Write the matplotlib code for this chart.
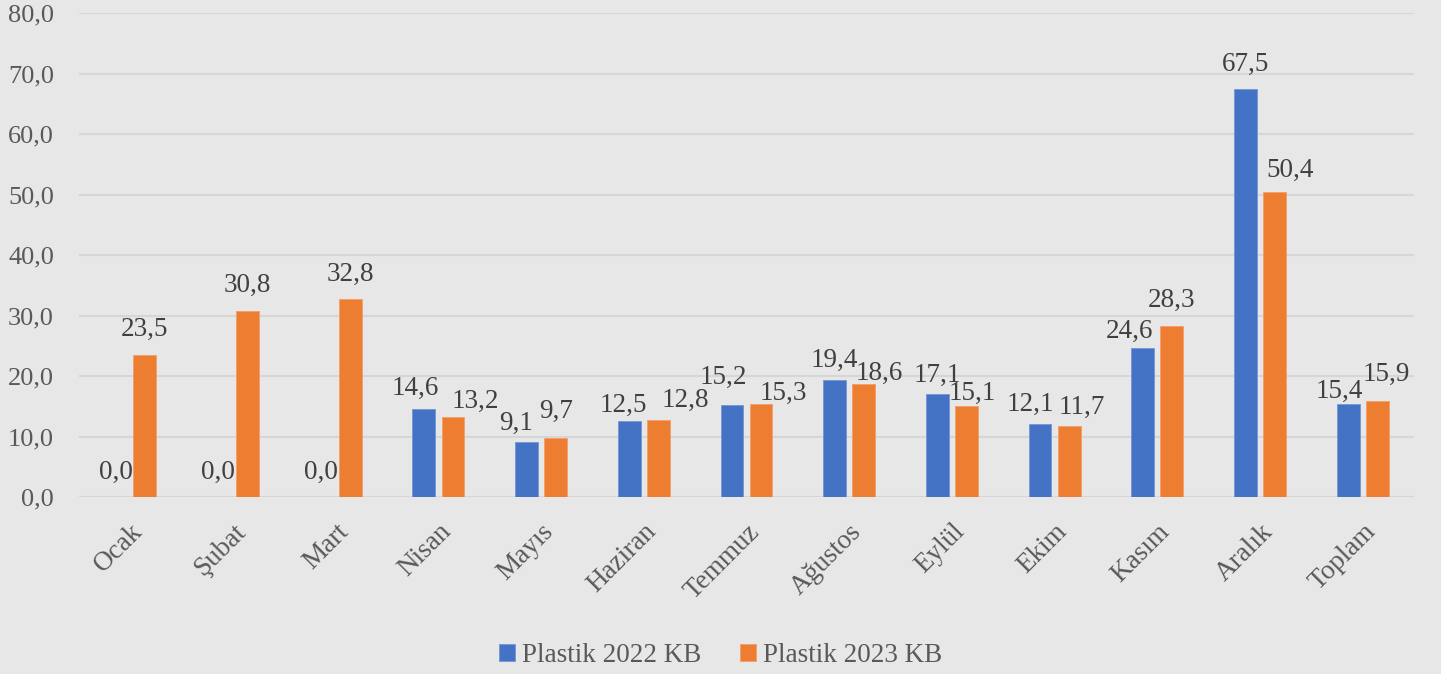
import matplotlib.pyplot as plt
import numpy as np

months = ["Ocak", "Şubat", "Mart", "Nisan", "Mayıs", "Haziran", "Temmuz",
          "Ağustos", "Eylül", "Ekim", "Kasım", "Aralık", "Toplam"]
plastik_2022 = [0.0, 0.0, 0.0, 14.6, 9.1, 12.5, 15.2, 19.4, 17.1, 12.1, 24.6, 67.5, 15.4]
plastik_2023 = [23.5, 30.8, 32.8, 13.2, 9.7, 12.8, 15.3, 18.6, 15.1, 11.7, 28.3, 50.4, 15.9]

# label nudges in pixels (dx, gap above bar) - mimics the source's overlap avoidance
nudge_2022 = [(0, 18), (0, 18), (0, 18), (-9, 14), (-10, 12), (-6, 9), (-9, 21),
              (0, 13), (0, 12), (-10, 13), (-13, 10), (0, 18), (-9, 6)]
nudge_2023 = [(0, 19), (0, 19), (0, 18), (22, 9), (0, 20), (27, 13), (22, 5),
              (16, 5), (6, 6), (13, 12), (0, 19), (15, 15), (9, 20)]

plt.rcParams['font.family'] = ['Liberation Serif', 'DejaVu Serif']

bg = "#E7E7E7"
fig = plt.figure(figsize=(14.41, 6.74), dpi=100, facecolor=bg)
ax = fig.add_axes([0.0548, 0.2626, 0.9265, 0.7181], facecolor=bg)

x = np.arange(len(months))
w = 0.222
b1 = ax.bar(x - 0.142, plastik_2022, w, color="#4472C4", edgecolor="#7396D4",
            linewidth=0.6, label="Plastik 2022 KB", zorder=3)
b2 = ax.bar(x + 0.142, plastik_2023, w, color="#ED7D31", edgecolor="#F29E6A",
            linewidth=0.6, label="Plastik 2023 KB", zorder=3)

def fmt(v):
    return f"{v:.1f}".replace(".", ",")

for bars, vals, nudges in ((b1, plastik_2022, nudge_2022), (b2, plastik_2023, nudge_2023)):
    for r, v, (dx, dy) in zip(bars, vals, nudges):
        ax.annotate(fmt(v), (r.get_x() + r.get_width() / 2, v), xytext=(dx, dy),
                    textcoords="offset pixels", ha="center", va="baseline",
                    fontsize=19.5, color="#404040", zorder=4)

ax.set_ylim(0, 80)
ax.set_xlim(-0.5, len(months) - 0.5)
ax.set_yticks(np.arange(0, 81, 10))
ax.set_yticklabels([fmt(v) for v in np.arange(0, 81, 10)], fontsize=19, color="#595959")
ax.set_xticks(x)
ax.set_xticklabels(months, rotation=45, ha="right", rotation_mode="anchor",
                   fontsize=19.5, color="#595959")
ax.tick_params(length=0, axis="y", pad=18)
ax.tick_params(length=0, axis="x", pad=16)
ax.grid(axis="y", color="#D6D6D6", linewidth=1.5, zorder=0)
for s in ax.spines.values():
    s.set_visible(False)

fig.legend(handles=[b1, b2], loc="lower center", ncol=2, frameon=False,
           fontsize=19.5, labelcolor="#595959", bbox_to_anchor=(0.5, -0.027),
           handlelength=0.62, handleheight=0.62, handletextpad=0.25, columnspacing=1.4)

fig.savefig("out.png", dpi=100, facecolor=bg)
